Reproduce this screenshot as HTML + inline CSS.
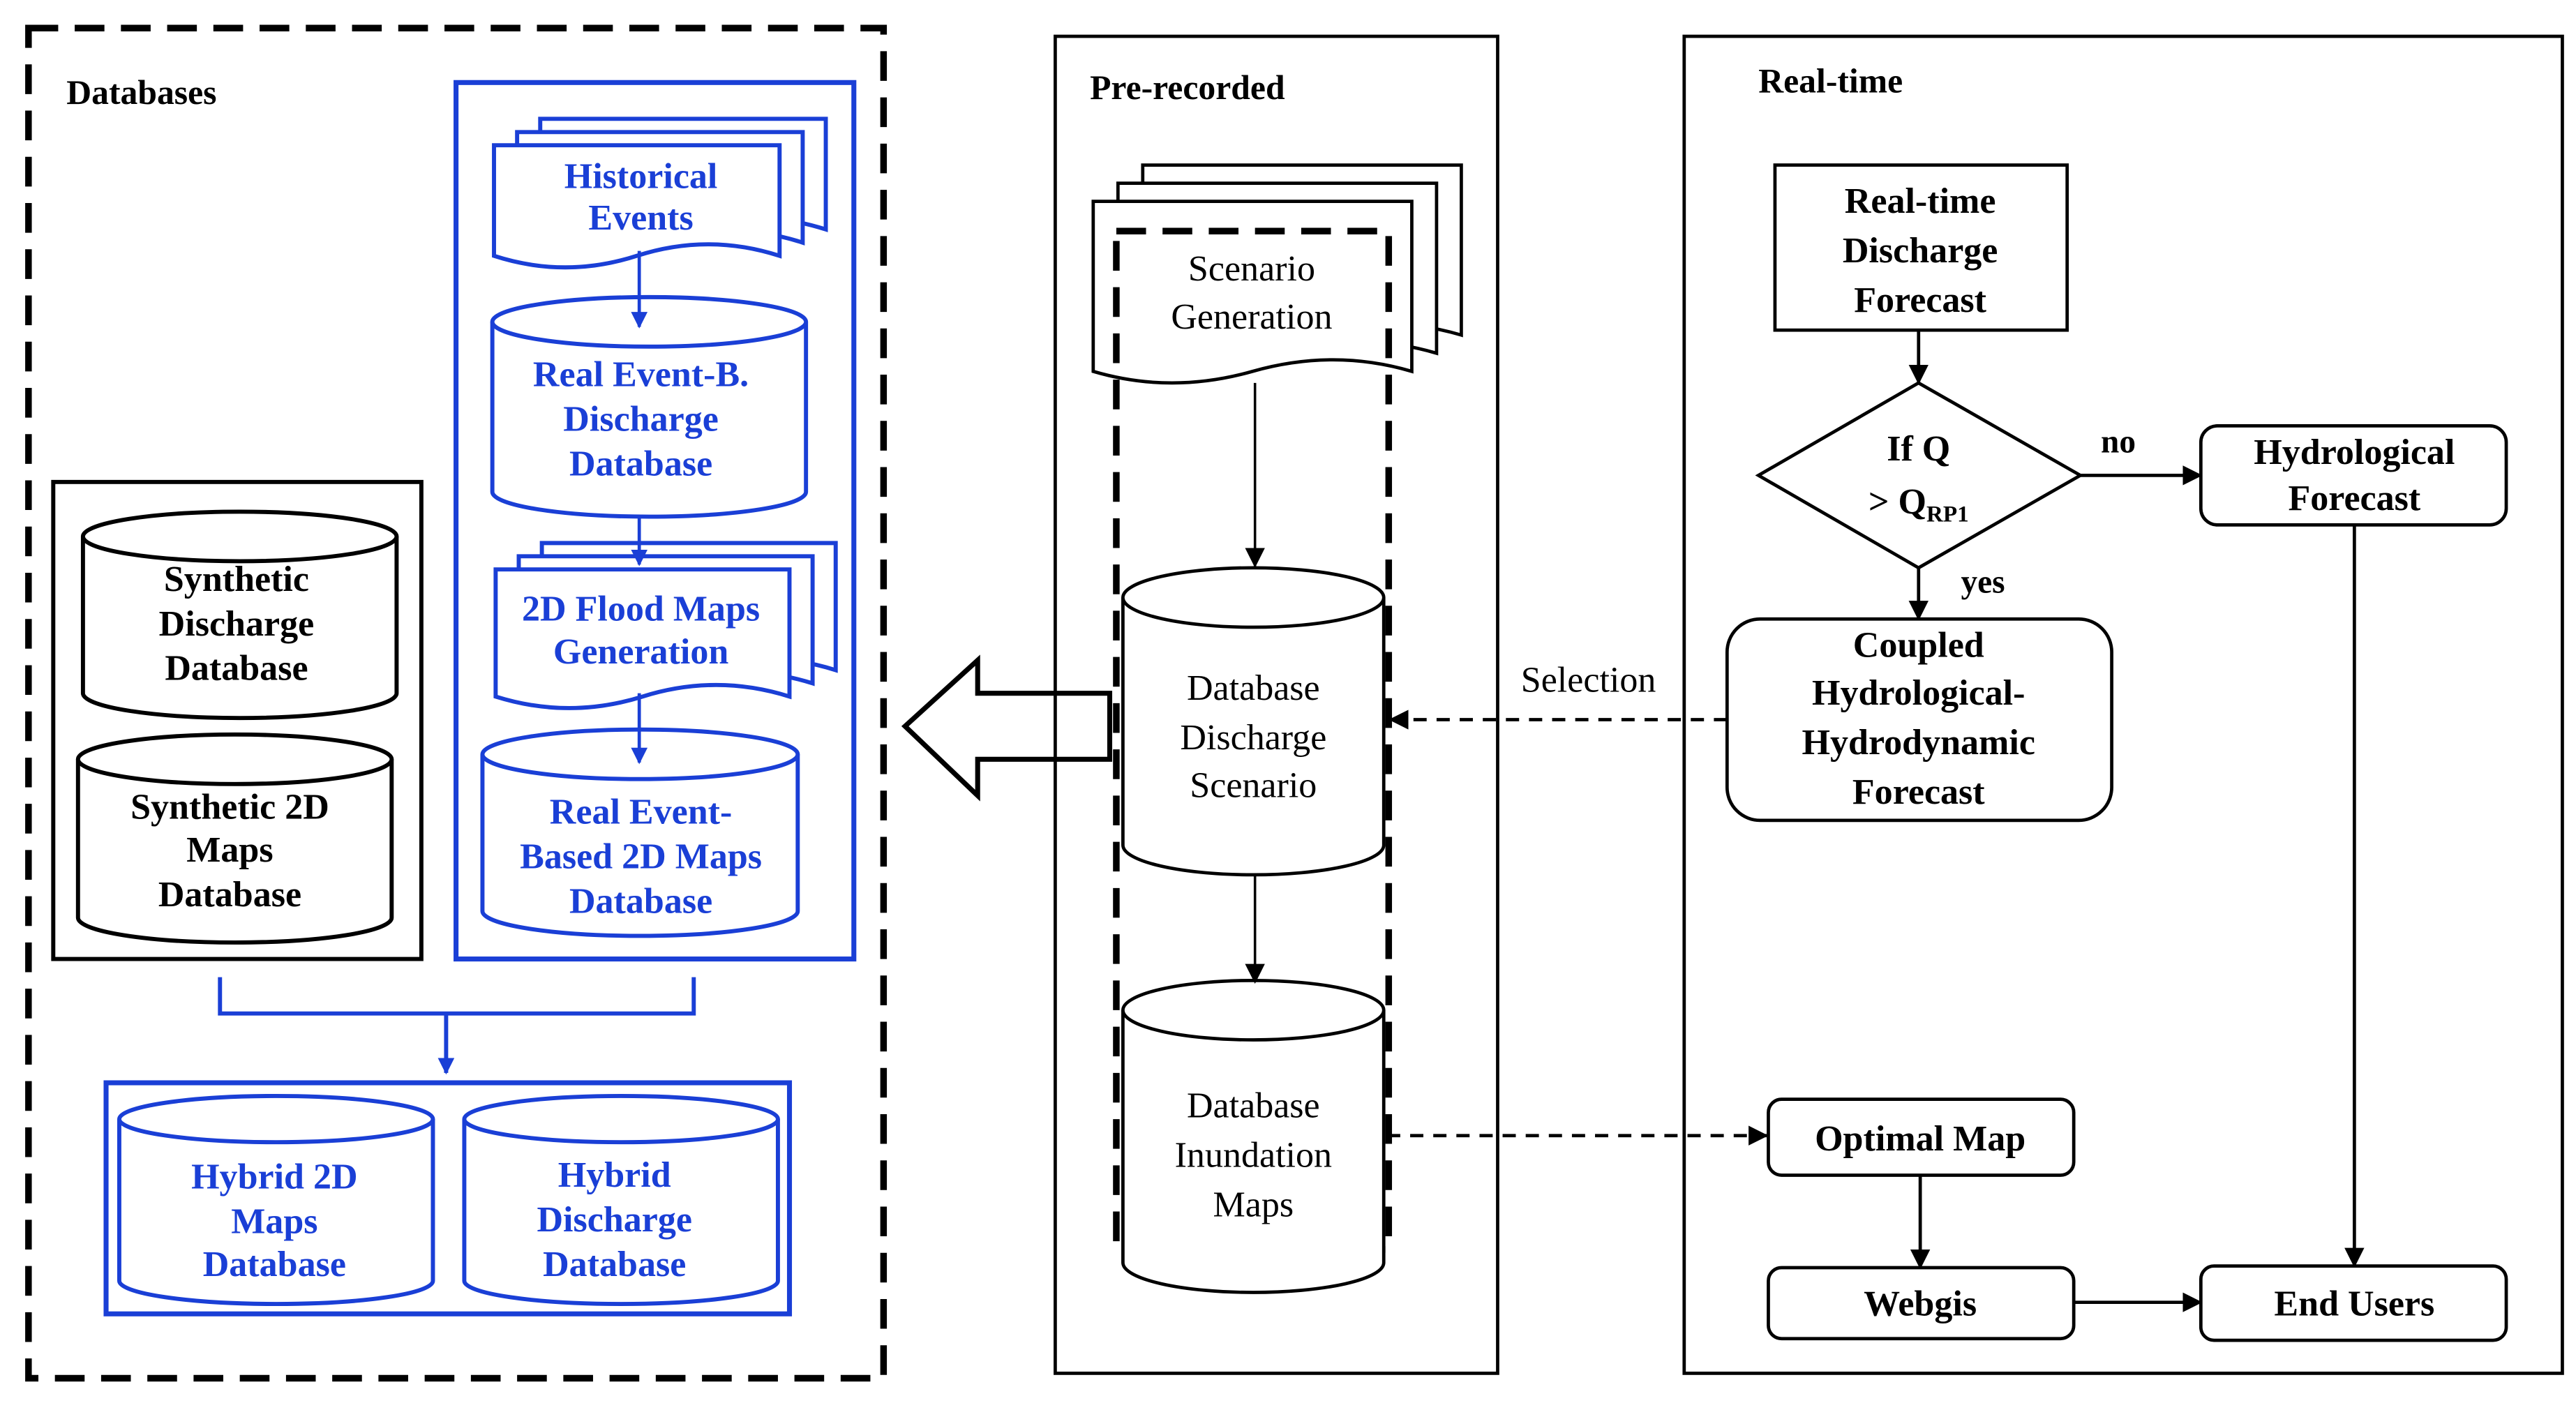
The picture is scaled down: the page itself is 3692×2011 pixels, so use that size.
<!DOCTYPE html>
<html><head><meta charset="utf-8"><style>
html,body{margin:0;padding:0;background:#fff}
svg{display:block}
text{font-family:"Liberation Serif",serif;font-weight:bold;font-size:22px;text-anchor:middle}
.b{fill:#1a3fd6}
</style></head><body>
<svg width="3692" height="2011" viewBox="0 0 1560 850" xmlns="http://www.w3.org/2000/svg">
<defs>
<marker id="ab" markerWidth="10" markerHeight="10" refX="9" refY="5" orient="auto" markerUnits="userSpaceOnUse"><path d="M0,0 L10,5 L0,10 Z" fill="#1a3fd6"/></marker>
<marker id="ak" markerWidth="12" markerHeight="12" refX="11" refY="6" orient="auto" markerUnits="userSpaceOnUse"><path d="M0,0 L12,6 L0,12 Z" fill="#000"/></marker>
</defs>
<rect width="1560" height="850" fill="#fff"/>

<!-- Databases -->
<rect x="17" y="17" width="518" height="818" fill="none" stroke="#000" stroke-width="4" stroke-dasharray="18,10"/>
<text x="40" y="63" style="text-anchor:start;font-size:21px">Databases</text>

<rect x="276" y="50" width="241" height="531" fill="none" stroke="#1a3fd6" stroke-width="3"/>
<g fill="#fff" stroke="#1a3fd6" stroke-width="2.5">
<path d="M327 72 H500 V139 Q456.75 125 413.5 139 T327 139 Z"/>
<path d="M313 80 H486 V147 Q442.75 133 399.5 147 T313 147 Z"/>
<path d="M299 88 H472 V155 Q428.75 141 385.5 155 T299 155 Z"/>
</g>
<text class="b" x="388" y="114">Historical</text>
<text class="b" x="388" y="139">Events</text>
<g fill="#fff" stroke="#1a3fd6" stroke-width="2.5">
<path d="M298 195 V298 A95 15 0 0 0 488 298 V195"/><ellipse cx="393" cy="195" rx="95" ry="15"/>
</g>
<text class="b" x="388" y="234">Real Event-B.</text>
<text class="b" x="388" y="261">Discharge</text>
<text class="b" x="388" y="288">Database</text>
<g fill="#fff" stroke="#1a3fd6" stroke-width="2.5">
<path d="M328 329 H506 V406 Q461.5 392 417 406 T328 406 Z"/>
<path d="M314 337 H492 V414 Q447.5 400 403 414 T314 414 Z"/>
<path d="M300 345 H478 V422 Q433.5 408 389 422 T300 422 Z"/>
</g>
<text class="b" x="388" y="376">2D Flood Maps</text>
<text class="b" x="388" y="402">Generation</text>
<g fill="#fff" stroke="#1a3fd6" stroke-width="2.5">
<path d="M292 457 V552 A95.5 15 0 0 0 483 552 V457"/><ellipse cx="387.5" cy="457" rx="95.5" ry="15"/>
</g>
<text class="b" x="388" y="499">Real Event-</text>
<text class="b" x="388" y="526">Based 2D Maps</text>
<text class="b" x="388" y="553">Database</text>
<line x1="387" y1="152" x2="387" y2="198" stroke="#1a3fd6" stroke-width="2" marker-end="url(#ab)"/>
<line x1="387" y1="313" x2="387" y2="342" stroke="#1a3fd6" stroke-width="2" marker-end="url(#ab)"/>
<line x1="387" y1="420" x2="387" y2="462" stroke="#1a3fd6" stroke-width="2" marker-end="url(#ab)"/>

<rect x="32" y="292" width="223" height="289" fill="none" stroke="#000" stroke-width="2.5"/>
<g fill="#fff" stroke="#000" stroke-width="2.5">
<path d="M50 325 V420 A95 15 0 0 0 240 420 V325"/><ellipse cx="145" cy="325" rx="95" ry="15"/>
<path d="M47 460 V556 A95 15 0 0 0 237 556 V460"/><ellipse cx="142" cy="460" rx="95" ry="15"/>
</g>
<text x="143" y="358">Synthetic</text>
<text x="143" y="385">Discharge</text>
<text x="143" y="412">Database</text>
<text x="139" y="496">Synthetic 2D</text>
<text x="139" y="522">Maps</text>
<text x="139" y="549">Database</text>

<path d="M133 592 V614 H420 V592" fill="none" stroke="#1a3fd6" stroke-width="2.5"/>
<line x1="270" y1="614" x2="270" y2="650" stroke="#1a3fd6" stroke-width="2.5" marker-end="url(#ab)"/>
<rect x="64" y="656" width="414" height="140" fill="none" stroke="#1a3fd6" stroke-width="3"/>
<g fill="#fff" stroke="#1a3fd6" stroke-width="2.5">
<path d="M72 678 V776 A95 14 0 0 0 262 776 V678"/><ellipse cx="167" cy="678" rx="95" ry="14"/>
<path d="M281 678 V776 A95 14 0 0 0 471 776 V678"/><ellipse cx="376" cy="678" rx="95" ry="14"/>
</g>
<text class="b" x="166" y="720">Hybrid 2D</text>
<text class="b" x="166" y="747">Maps</text>
<text class="b" x="166" y="773">Database</text>
<text class="b" x="372" y="719">Hybrid</text>
<text class="b" x="372" y="746">Discharge</text>
<text class="b" x="372" y="773">Database</text>

<!-- big arrow -->
<path d="M548 440 L592 400 V420 H672 V460 H592 V482 Z" fill="#fff" stroke="#000" stroke-width="3"/>

<!-- Pre-recorded -->
<rect x="639" y="22" width="268" height="810" fill="none" stroke="#000" stroke-width="2"/>
<text x="660" y="60" style="text-anchor:start;font-size:21px">Pre-recorded</text>
<g fill="#fff" stroke="#000" stroke-width="2">
<path d="M692 100 H885 V203 Q837.75 189 788.5 203 T692 203 Z"/>
<path d="M677 111 H870 V214 Q822.75 200 773.5 214 T677 214 Z"/>
<path d="M662 122 H855 V225 Q807.75 211 758.5 225 T662 225 Z"/>
</g>
<rect x="676" y="140" width="165" height="617" fill="none" stroke="#000" stroke-width="4" stroke-dasharray="18,10"/>
<text x="758" y="170" style="font-weight:normal">Scenario</text>
<text x="758" y="199" style="font-weight:normal">Generation</text>
<line x1="760" y1="232" x2="760" y2="343" stroke="#000" stroke-width="1.5" marker-end="url(#ak)"/>
<g fill="#fff" stroke="#000" stroke-width="2">
<path d="M680 362 V512 A79 18 0 0 0 838 512 V362"/><ellipse cx="759" cy="362" rx="79" ry="18"/>
<path d="M680 612 V765 A79 18 0 0 0 838 765 V612"/><ellipse cx="759" cy="612" rx="79" ry="18"/>
</g>
<text x="759" y="424" style="font-weight:normal">Database</text>
<text x="759" y="454" style="font-weight:normal">Discharge</text>
<text x="759" y="483" style="font-weight:normal">Scenario</text>
<line x1="760" y1="530" x2="760" y2="595" stroke="#000" stroke-width="1.5" marker-end="url(#ak)"/>
<text x="759" y="677" style="font-weight:normal">Database</text>
<text x="759" y="707" style="font-weight:normal">Inundation</text>
<text x="759" y="737" style="font-weight:normal">Maps</text>

<!-- Real-time -->
<rect x="1020" y="22" width="532" height="810" fill="none" stroke="#000" stroke-width="2"/>
<text x="1065" y="56" style="text-anchor:start;font-size:21px">Real-time</text>
<rect x="1075" y="100" width="177" height="100" fill="#fff" stroke="#000" stroke-width="2"/>
<text x="1163" y="129">Real-time</text>
<text x="1163" y="159">Discharge</text>
<text x="1163" y="189">Forecast</text>
<line x1="1162" y1="200" x2="1162" y2="232" stroke="#000" stroke-width="2" marker-end="url(#ak)"/>
<path d="M1162 232 L1260 288 L1162 344 L1065 288 Z" fill="#fff" stroke="#000" stroke-width="2"/>
<text x="1162" y="279">If Q</text>
<text x="1162" y="311">&gt; Q<tspan style="font-size:14px" dy="5">RP1</tspan></text>
<line x1="1260" y1="288" x2="1333" y2="288" stroke="#000" stroke-width="2" marker-end="url(#ak)"/>
<text x="1283" y="274" style="font-size:20px">no</text>
<rect x="1333" y="258" width="185" height="60" rx="10" fill="#fff" stroke="#000" stroke-width="2"/>
<text x="1426" y="281">Hydrological</text>
<text x="1426" y="309">Forecast</text>
<line x1="1162" y1="344" x2="1162" y2="375" stroke="#000" stroke-width="2" marker-end="url(#ak)"/>
<text x="1201" y="359" style="font-size:20px">yes</text>
<rect x="1046" y="375" width="233" height="122" rx="20" fill="#fff" stroke="#000" stroke-width="2"/>
<text x="1162" y="398">Coupled</text>
<text x="1162" y="427">Hydrological-</text>
<text x="1162" y="457">Hydrodynamic</text>
<text x="1162" y="487">Forecast</text>
<line x1="1046" y1="436" x2="842" y2="436" stroke="#000" stroke-width="2" stroke-dasharray="8,6" marker-end="url(#ak)"/>
<text x="962" y="419" style="font-weight:normal">Selection</text>
<line x1="840" y1="688" x2="1070" y2="688" stroke="#000" stroke-width="2" stroke-dasharray="8,6" marker-end="url(#ak)"/>
<rect x="1071" y="666" width="185" height="46" rx="8" fill="#fff" stroke="#000" stroke-width="2"/>
<text x="1163" y="697">Optimal Map</text>
<line x1="1163" y1="712" x2="1163" y2="768" stroke="#000" stroke-width="2" marker-end="url(#ak)"/>
<rect x="1071" y="768" width="185" height="43" rx="8" fill="#fff" stroke="#000" stroke-width="2"/>
<text x="1163" y="797">Webgis</text>
<line x1="1256" y1="789" x2="1333" y2="789" stroke="#000" stroke-width="2" marker-end="url(#ak)"/>
<rect x="1333" y="767" width="185" height="45" rx="8" fill="#fff" stroke="#000" stroke-width="2"/>
<text x="1426" y="797">End Users</text>
<line x1="1426" y1="318" x2="1426" y2="767" stroke="#000" stroke-width="2" marker-end="url(#ak)"/>
</svg>
</body></html>
